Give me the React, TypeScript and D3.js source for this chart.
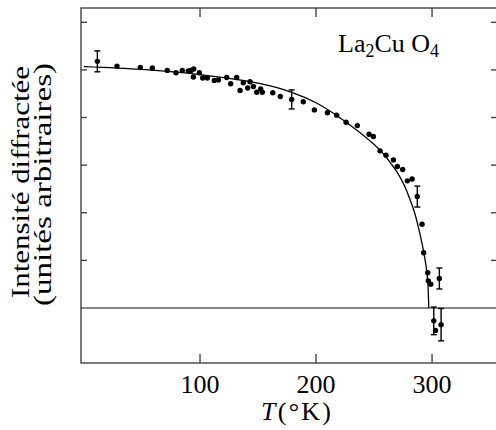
import React, { useEffect, useRef } from "react";
import * as d3 from "d3";

// measured points (no error bar)
const tempPts = [28.4, 48.5, 58.9, 71.8, 79.3, 84.7, 89.9, 92.2, 94.6, 94.3, 99.4, 102.3, 106.3, 112.3, 115.8, 123, 126.4, 131.6, 134.5, 137.3, 141.1, 143.1, 146, 148.9, 152.3, 153.7, 162.7, 169.2, 189, 198.6, 209.8, 217.8, 225.9, 235.6, 245.7, 249.4, 255.2, 260.3, 266.7, 270.1, 274.7, 278.7, 282.8, 291.4, 292.8, 296.3, 296.8, 298.9, 303];
const intensityPts = [5.08, 5.05, 5.04, 4.99, 4.94, 4.99, 4.98, 4.99, 5.02, 4.85, 4.94, 4.83, 4.83, 4.78, 4.79, 4.84, 4.71, 4.84, 4.57, 4.73, 4.62, 4.75, 4.65, 4.53, 4.6, 4.53, 4.52, 4.44, 4.33, 4.16, 4.1, 4.05, 3.9, 3.83, 3.65, 3.6, 3.3, 3.21, 3.11, 2.97, 2.91, 2.67, 2.71, 1.76, 1.16, 0.74, 0.57, 0.5, -0.47];

// points with error bars
const tempErr = [11.5, 179, 287.3, 306.3, 301.5, 307.8];
const intensityErr = [5.18, 4.38, 2.34, 0.62, -0.27, -0.35];
const errSize = [0.22, 0.2, 0.22, 0.22, 0.29, 0.34];

// fitted curve
const fitTemp = [0, 50, 100, 150, 179, 200, 226, 255, 265, 270, 276, 281, 285, 288, 291, 293, 295, 296.3, 297.2];
const fitIntensity = [5.07, 5.01, 4.9, 4.72, 4.53, 4.31, 3.9, 3.32, 3.02, 2.85, 2.58, 2.28, 2.0, 1.72, 1.4, 1.15, 0.85, 0.55, 0];

const xTicks = [100, 200, 300];
const yTicks = [1, 2, 3, 4, 5, 6];

const W = 496;
const H = 430;

const Chart = () => {
  const ref = useRef<SVGSVGElement>(null);

  useEffect(() => {
    const m = { left: 81, top: 8, right: 497, bottom: 363 };
    const svg = d3.select(ref.current);
    svg.selectAll("*").remove();

    const x = d3.scaleLinear().domain([-2.6, 356]).range([m.left, m.right]);
    const y = d3.scaleLinear().domain([-1.155, 6.3]).range([m.bottom, m.top]);
    const font = "'Liberation Serif', 'Times New Roman', serif";
    const frame = "#444";

    // frame
    svg.append("rect")
      .attr("x", m.left).attr("y", m.top)
      .attr("width", m.right - m.left).attr("height", m.bottom - m.top)
      .attr("fill", "none").attr("stroke", frame).attr("stroke-width", 1.4);

    // zero line
    svg.append("line")
      .attr("x1", m.left).attr("x2", m.right)
      .attr("y1", y(0)).attr("y2", y(0))
      .attr("stroke", "#111").attr("stroke-width", 1.1);

    // ticks
    const tk = svg.append("g").attr("stroke", frame).attr("stroke-width", 1.4);
    xTicks.forEach((t) => {
      tk.append("line").attr("x1", x(t)).attr("x2", x(t)).attr("y1", m.bottom).attr("y2", m.bottom - 9);
      tk.append("line").attr("x1", x(t)).attr("x2", x(t)).attr("y1", m.top).attr("y2", m.top + 9);
    });
    yTicks.forEach((v) => {
      tk.append("line").attr("x1", m.left).attr("x2", m.left + 6).attr("y1", y(v)).attr("y2", y(v));
      tk.append("line").attr("x1", m.right).attr("x2", m.right - 6).attr("y1", y(v)).attr("y2", y(v));
    });

    svg.append("g")
      .selectAll("text")
      .data(xTicks)
      .enter()
      .append("text")
      .attr("x", (d) => x(d))
      .attr("y", 393)
      .attr("text-anchor", "middle")
      .style("font-family", font)
      .style("font-size", "26px")
      .text((d) => d);

    // fit curve
    const line = d3.line<number>()
      .x((d, i) => x(fitTemp[i]))
      .y((d) => y(d))
      .curve(d3.curveCatmullRom.alpha(0.5));
    svg.append("path")
      .attr("d", line(fitIntensity))
      .attr("fill", "none")
      .attr("stroke", "#000")
      .attr("stroke-width", 1.3);

    // error bars
    const eb = svg.append("g").attr("stroke", "#000").attr("stroke-width", 1.4);
    tempErr.forEach((t, i) => {
      const cx = x(t);
      const y1 = y(intensityErr[i] + errSize[i]);
      const y2 = y(intensityErr[i] - errSize[i]);
      eb.append("line").attr("x1", cx).attr("x2", cx).attr("y1", y1).attr("y2", y2);
      eb.append("line").attr("x1", cx - 3).attr("x2", cx + 3).attr("y1", y1).attr("y2", y1);
      eb.append("line").attr("x1", cx - 3).attr("x2", cx + 3).attr("y1", y2).attr("y2", y2);
    });

    // dots
    svg.append("g")
      .selectAll("circle")
      .data(tempPts.map((t, i) => [t, intensityPts[i]]).concat(tempErr.map((t, i) => [t, intensityErr[i]])))
      .enter()
      .append("circle")
      .attr("cx", (d) => x(d[0]))
      .attr("cy", (d) => y(d[1]))
      .attr("r", 2.7)
      .attr("fill", "#000");

    // axis labels
    const xl = svg.append("text")
      .attr("x", 296).attr("y", 420)
      .attr("text-anchor", "middle")
      .attr("textLength", 70)
      .style("font-family", font).style("font-size", "26px");
    xl.append("tspan").style("font-style", "italic").text("T");
    xl.append("tspan").text("(°K)");

    const yl = svg.append("g").attr("transform", "rotate(-90)")
      .style("font-family", font).style("font-size", "26px").attr("text-anchor", "middle");
    yl.append("text").attr("x", -182).attr("y", 29)
      .attr("textLength", 232).attr("lengthAdjust", "spacingAndGlyphs")
      .text("Intensité diffractée");
    yl.append("text").attr("x", -184.5).attr("y", 51)
      .attr("textLength", 243).attr("lengthAdjust", "spacingAndGlyphs")
      .text("(unités arbitraires)");

    // compound label
    const lab = svg.append("text").attr("x", 338).attr("y", 52)
      .style("font-family", font).style("font-size", "26px");
    lab.append("tspan").text("La");
    lab.append("tspan").attr("dy", 5).style("font-size", "18px").text("2");
    lab.append("tspan").attr("dy", -5).text("Cu O");
    lab.append("tspan").attr("dy", 5).style("font-size", "18px").text("4");
  }, []);

  return <svg ref={ref} width={W} height={H} style={{ position: "absolute", left: 0, top: 0, background: "#fff" }} />;
};

export default function App() {
  return <Chart />;
}
